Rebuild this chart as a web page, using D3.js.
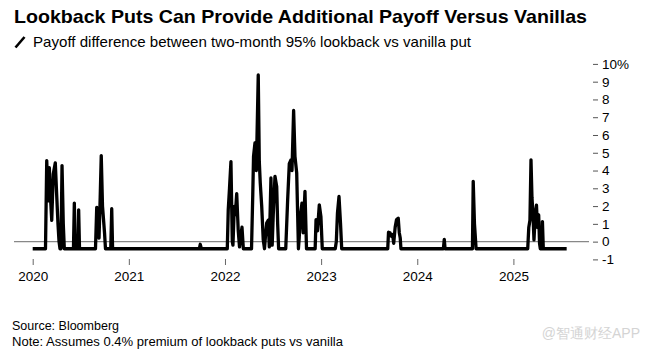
<!DOCTYPE html>
<html>
<head>
<meta charset="utf-8">
<script src="https://cdn.jsdelivr.net/npm/d3@7/dist/d3.min.js"></script>
<style>
  html, body { margin: 0; padding: 0; background: #fff; }
  svg { display: block; font-family: "Liberation Sans", Arial, sans-serif; }
</style>
</head>
<body>
<svg id="chart" width="646" height="354"></svg>
<script>
// ---- data (decimal year, payoff difference in %) ----
const years = [
  2020.000, 2020.133, 2020.146, 2020.156, 2020.164, 2020.173, 2020.185, 2020.198, 2020.214, 2020.235,
  2020.248, 2020.263, 2020.274, 2020.284, 2020.294, 2020.305, 2020.318, 2020.329, 2020.424, 2020.433,
  2020.442, 2020.471, 2020.478, 2020.487, 2020.653, 2020.666, 2020.679, 2020.690, 2020.702, 2020.713,
  2020.726, 2020.736, 2020.747, 2020.757, 2020.812, 2020.822, 2020.831,
  2021.733, 2021.743, 2021.754,
  2022.024, 2022.034, 2022.047, 2022.062, 2022.076, 2022.083, 2022.097, 2022.107, 2022.122, 2022.138,
  2022.151, 2022.161, 2022.177, 2022.191, 2022.276, 2022.289, 2022.297, 2022.312, 2022.326, 2022.346,
  2022.357, 2022.367, 2022.382, 2022.398, 2022.411, 2022.421, 2022.434, 2022.450, 2022.461, 2022.478,
  2022.491, 2022.502, 2022.520, 2022.538, 2022.548, 2022.558, 2022.632, 2022.652, 2022.669, 2022.686,
  2022.697, 2022.714, 2022.728, 2022.746, 2022.756, 2022.764, 2022.772, 2022.783, 2022.801, 2022.813,
  2022.832, 2022.848, 2022.938, 2022.947, 2022.962, 2022.981, 2022.998, 2023.012,
  2023.147, 2023.158, 2023.170, 2023.186, 2023.202, 2023.214, 2023.693, 2023.701, 2023.716, 2023.732,
  2023.744, 2023.755, 2023.770, 2023.784, 2023.802, 2023.813, 2023.823, 2023.830,
  2024.272, 2024.281, 2024.289, 2024.574, 2024.582, 2024.595, 2024.603, 2024.612,
  2025.149, 2025.160, 2025.172, 2025.183, 2025.193, 2025.204, 2025.214, 2025.228, 2025.240, 2025.250,
  2025.263, 2025.272, 2025.280, 2025.295, 2025.302, 2025.311, 2025.554
];
const values = [
  -0.4, -0.4, 4.56, 3.0, 2.3, 4.16, 2.5, 1.2, 3.8, 4.43,
  2.8, 1.0, 0.0, -0.4, -0.4, 4.28, 1.0, -0.4, -0.4, 2.17,
  -0.4, -0.4, 1.79, -0.4, -0.4, 1.93, 1.5, 0.2, 2.5, 4.84,
  2.0, 1.3, 0.5, -0.4, -0.4, 1.85, -0.4,
  -0.4, -0.15, -0.4,
  -0.4, 1.8, 3.0, 4.5, 0.0, -0.2, 1.98, 1.5, 2.7, 0.6,
  -0.3, 0.2, 0.81, -0.4, -0.4, 2.64, 4.8, 5.56, 4.0, 9.38,
  4.5, 3.3, 2.0, 0.1, -0.4, 0.3, 1.04, 1.2, -0.3, 3.58,
  -0.2, 1.5, 3.67, 3.1, 1.0, -0.4, -0.4, 2.36, 4.39, 4.6,
  4.0, 7.38, 4.8, 3.87, 1.5, -0.4, 0.2, 1.4, 2.17, 0.5,
  2.83, -0.4, -0.4, 1.23, 0.6, 2.07, 1.4, -0.4,
  -0.4, 0.0, 1.6, 2.54, 1.0, -0.4, -0.4, 0.53, 0.5, 0.3,
  0.4, -0.1, 0.8, 1.23, 1.32, 0.5, 0.2, -0.4,
  -0.4, 0.13, -0.4, -0.4, 3.39, 1.0, 0.35, -0.4,
  -0.4, 0.8, 1.2, 4.6, 2.5, 1.5, 0.1, 1.6, 2.05, 0.8,
  1.5, -0.1, -0.4, -0.4, 1.13, -0.4, -0.4
];
const xTicks = [2020, 2021, 2022, 2023, 2024, 2025];
const yTicks = [-1, 0, 1, 2, 3, 4, 5, 6, 7, 8, 9, 10];

const title = "Lookback Puts Can Provide Additional Payoff Versus Vanillas";
const subtitle = "Payoff difference between two-month 95% lookback vs vanilla put";
const source = "Source: Bloomberg";
const note = "Note: Assumes 0.4% premium of lookback puts vs vanilla";
const watermark = "@智通财经APP";

// ---- drawing ----
const svg = d3.select("#chart");
const x = d3.scaleLinear().domain([2020, 2025]).range([32.7, 513.4]);
const y = d3.scaleLinear().domain([-1, 10]).range([259.4, 63.9]);

function fitText(sel, w) {
  const len = sel.node().getComputedTextLength();
  if (Math.abs(len - w) > 1) sel.attr("textLength", w).attr("lengthAdjust", "spacingAndGlyphs");
}

// title
const t = svg.append("text").attr("x", 14).attr("y", 23)
  .attr("font-size", 19).attr("font-weight", "bold").attr("fill", "#000").text(title);
fitText(t, 573);

// subtitle icon + text
svg.append("line").attr("x1", 15.5).attr("y1", 47.5).attr("x2", 24.5).attr("y2", 37)
  .attr("stroke", "#000").attr("stroke-width", 2.6).attr("stroke-linecap", "butt");
const st = svg.append("text").attr("x", 33).attr("y", 46.5)
  .attr("font-size", 14.5).attr("fill", "#000").text(subtitle);
fitText(st, 438);

// zero line
svg.append("line").attr("x1", 14).attr("x2", 589)
  .attr("y1", y(0)).attr("y2", y(0))
  .attr("stroke", "#888").attr("stroke-width", 1.2);

// right axis
const yAxis = d3.axisRight(y).tickValues(yTicks).tickSize(5).tickPadding(4)
  .tickFormat(d => d === 10 ? "10%" : (d < 0 ? "-" + Math.abs(d) : String(d)));
const ya = svg.append("g").attr("transform", "translate(593,0)").call(yAxis);
ya.select(".domain").remove();
ya.selectAll(".tick line").attr("stroke", "#555");
ya.selectAll(".tick text").attr("font-size", 13.5).attr("fill", "#000")
  .attr("font-family", "Liberation Sans, Arial, sans-serif");

// bottom axis
const xAxis = d3.axisBottom(x).tickValues(xTicks).tickSize(6).tickPadding(6)
  .tickFormat(d3.format("d"));
const xa = svg.append("g").attr("transform", "translate(0,259)").call(xAxis);
xa.select(".domain").remove();
xa.selectAll(".tick line").attr("stroke", "#666");
xa.selectAll(".tick text").attr("font-size", 13.5).attr("fill", "#000")
  .attr("font-family", "Liberation Sans, Arial, sans-serif");

// series line
const data = years.map((yr, i) => ({ t: yr, v: values[i] }));
const line = d3.line().x(d => x(d.t)).y(d => y(d.v));
svg.append("path").datum(data).attr("d", line)
  .attr("fill", "none").attr("stroke", "#000").attr("stroke-width", 3.3)
  .attr("stroke-linejoin", "round");

// footer
svg.append("text").attr("x", 12).attr("y", 330).attr("font-size", 12.5).attr("fill", "#000").text(source);
const nt = svg.append("text").attr("x", 12).attr("y", 346).attr("font-size", 12.5).attr("fill", "#000").text(note);
fitText(nt, 331);
svg.append("text").attr("x", 640).attr("y", 338).attr("text-anchor", "end")
  .attr("font-size", 14).attr("fill", "#d4d4d4").text(watermark);
</script>
</body>
</html>
